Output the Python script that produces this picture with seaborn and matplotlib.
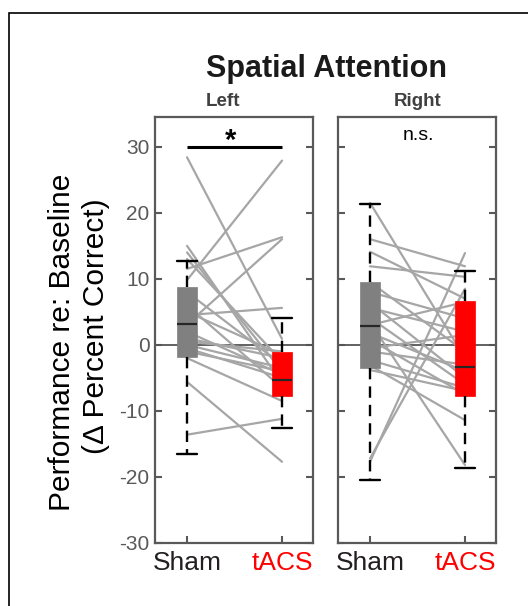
import numpy as np
import pandas as pd
import matplotlib
matplotlib.use("Agg")
import matplotlib.pyplot as plt
import seaborn as sns
from matplotlib.patches import Rectangle

# ---------------- data ----------------
conditions = ["Sham", "tACS"]
panels = ["Left", "Right"]
yticks = [-30, -20, -10, 0, 10, 20, 30]

left_sham = [28.4, 9.8, 11.5, 3.1, 15.0, 14.0, 13.0, 4.5, 8.0, 6.0,
             2.0, 1.0, 0.5, 0.0, -0.5, -1.0, -2.0, -5.6, -13.6, 5.0]
left_tacs = [0.9, 27.9, 16.3, 16.0, -5.8, -4.0, -2.5, 5.6, -3.0, -6.5,
             -4.5, -2.0, -1.0, -3.5, -5.0, -4.0, -8.5, -17.7, -11.2, -1.5]

right_sham = [21.5, 16.0, 14.1, 11.9, -17.7, -17.2, 3.4, -3.1, 6.4, 5.6,
              4.1, 3.0, 1.8, 0.8, -1.0, -2.3, -3.8, 9.5, 8.0, -0.5]
right_tacs = [-2.0, 11.9, 7.0, 10.3, 13.9, 8.5, -18.2, -11.4, -5.0, 2.0,
              -6.0, 6.5, -4.0, -7.5, -3.0, -6.5, -7.0, -1.0, 4.0, 1.5]

# box summaries: [lower whisker, q1, median, q3, upper whisker]
left_sham_box = [-16.5, -1.9, 3.1, 8.8, 12.7]
left_tacs_box = [-12.6, -7.8, -5.3, -1.1, 4.1]
right_sham_box = [-20.5, -3.5, 2.8, 9.5, 21.3]
right_tacs_box = [-18.7, -7.7, -3.3, 6.7, 11.2]

significance = ["*", "n.s."]

# ---------------- style ----------------
sns.set_theme(style="white")
plt.rcParams["font.family"] = ["Liberation Sans", "DejaVu Sans"]
plt.rcParams["axes.unicode_minus"] = False

W, H = 528, 606
fig = plt.figure(figsize=(W / 100, H / 100), dpi=100)

spine_col = "#595959"
line_col = "#a6a6a6"
sham_col = "#808080"
tacs_col = "#ff0000"


def px_axes(x0, x1, y0, y1):
    return fig.add_axes([x0 / W, 1 - y1 / H, (x1 - x0) / W, (y1 - y0) / H])


ax_l = px_axes(155, 313, 117, 543)
ax_r = px_axes(338, 496, 117, 543)

data_sets = [
    (ax_l, left_sham, left_tacs, left_sham_box, left_tacs_box),
    (ax_r, right_sham, right_tacs, right_sham_box, right_tacs_box),
]


def to_stats(b, label):
    return dict(whislo=b[0], q1=b[1], med=b[2], q3=b[3], whishi=b[4],
                label=label, fliers=[])


for i, (ax, sham, tacs, sbox, tbox) in enumerate(data_sets):
    n = len(sham)
    df = pd.DataFrame({
        "subject": list(range(n)) * 2,
        "condition": [conditions[0]] * n + [conditions[1]] * n,
        "value": list(sham) + list(tacs),
    })
    df["pos"] = df["condition"].map({conditions[0]: 0, conditions[1]: 1})

    ax.axhline(0, color="#555555", lw=1.3, zorder=1)
    sns.lineplot(data=df, x="pos", y="value", units="subject", estimator=None,
                 color=line_col, linewidth=1.6, ax=ax, legend=False, zorder=2)

    bp = ax.bxp([to_stats(sbox, conditions[0]), to_stats(tbox, conditions[1])],
                positions=[0, 1], widths=0.21, capwidths=0.21,
                patch_artist=True, showfliers=False,
                whiskerprops=dict(color="black", lw=1.7, linestyle=(0, (4.8, 3.0))),
                capprops=dict(color="black", lw=1.7),
                medianprops=dict(color="#262626", lw=1.6),
                zorder=3)
    for patch, col in zip(bp["boxes"], [sham_col, tacs_col]):
        patch.set_facecolor(col)
        patch.set_edgecolor(col)
        patch.set_linewidth(0.5)

    ax.set_xlim(-0.337, 1.326)
    ax.set_ylim(-30, 34.5)
    ax.set_yticks(yticks)
    ax.set_xticks([0, 1])
    ax.set_xticklabels(conditions, fontsize=19)
    ax.get_xticklabels()[0].set_color("#231f20")
    ax.get_xticklabels()[1].set_color(tacs_col)
    ax.set_xlabel("")
    ax.set_ylabel("")
    for sp in ax.spines.values():
        sp.set_color(spine_col)
        sp.set_linewidth(1.6)
    ax.tick_params(axis="both", direction="in", length=5, width=1.5,
                   color=spine_col, left=True, right=True, bottom=True, top=False)
    ax.tick_params(axis="x", pad=6)
    ax.tick_params(axis="y", labelsize=15, labelcolor=spine_col, pad=4)
    if i == 1:
        ax.tick_params(axis="y", labelleft=False)

# significance markers
ax_l.plot([0, 1], [30, 30], color="black", lw=2.2, solid_capstyle="butt", zorder=4)
ax_l.text(0.463, 29.6, significance[0], ha="center", va="baseline",
          fontsize=21, fontweight="bold", color="black")
ax_r.text(0.505, 31.0, significance[1], ha="center", va="baseline",
          fontsize=14, color="black")

# titles
fig.text(326 / W, 1 - 77 / H, "Spatial Attention", ha="center", va="baseline",
         fontsize=22, fontweight="bold", color="#1a1a1a")
fig.text(223 / W, 1 - 106 / H, panels[0], ha="center", va="baseline",
         fontsize=13.5, fontweight="bold", color="#404040")
fig.text(418 / W, 1 - 106 / H, panels[1], ha="center", va="baseline",
         fontsize=13.5, fontweight="bold", color="#404040")

# y label (two lines)
fig.text(62 / W, 1 - 342 / H, "Performance re: Baseline", rotation=90,
         ha="center", va="center", fontsize=21.5, color="black")
fig.text(96 / W, 1 - 326 / H, "(\u0394 Percent Correct)", rotation=90,
         ha="center", va="center", fontsize=21.5, color="black")

# figure frame
fig.patches.append(Rectangle((9 / W, -0.1), 1.2, 1 - 13 / H + 0.1,
                             transform=fig.transFigure, fill=False,
                             edgecolor="black", lw=1.2))

fig.savefig("out.png", dpi=100)
